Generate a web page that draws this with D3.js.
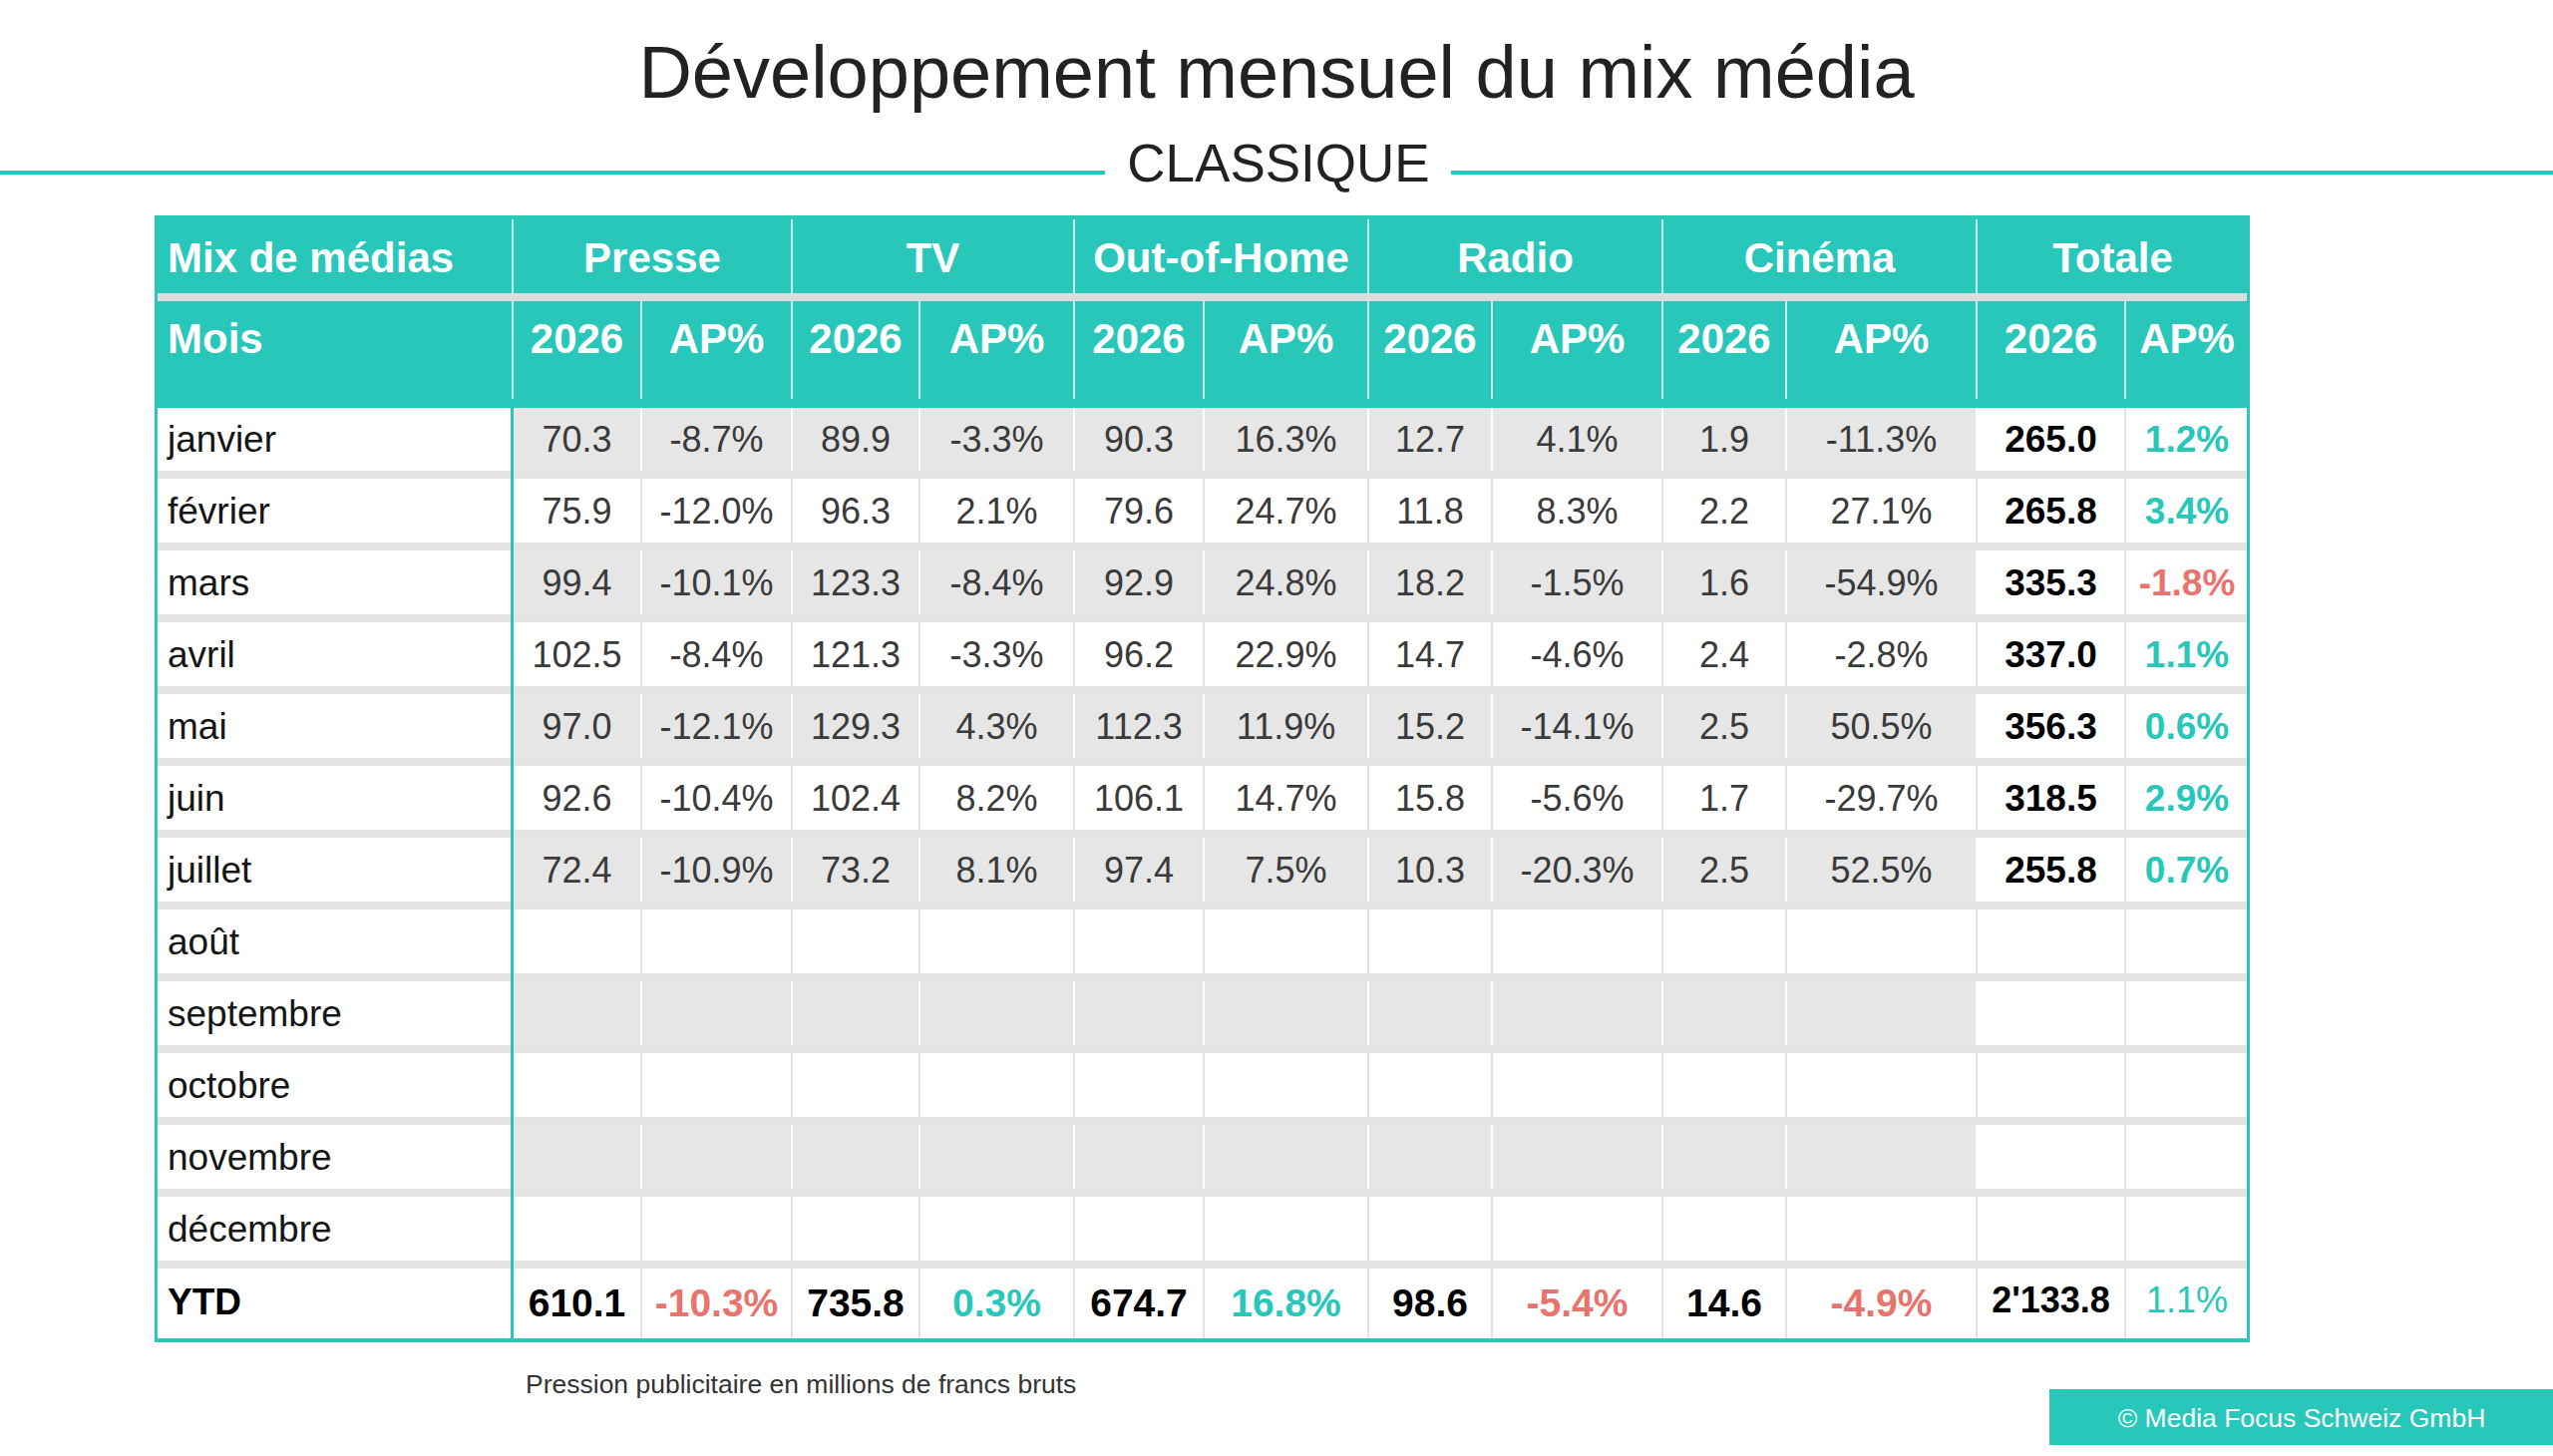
<!DOCTYPE html>
<html>
<head>
<meta charset="utf-8">
<script src="https://cdn.jsdelivr.net/npm/d3@7/dist/d3.min.js"></script>
<style>
  html, body { margin: 0; padding: 0; background: #ffffff; }
  svg { display: block; font-family: "Liberation Sans", Arial, Helvetica, sans-serif; }
</style>
</head>
<body>
<svg id="chart" width="2560" height="1460"></svg>
<script>
// ---------------- DATA ----------------
const titleText = "Développement mensuel du mix média";
const subtitleText = "CLASSIQUE";
const noteText = "Pression publicitaire en millions de francs bruts";
const copyrightText = "© Media Focus Schweiz GmbH";

const groups = ["Presse", "TV", "Out-of-Home", "Radio", "Cinéma", "Totale"];
const subHeaders = ["2026", "AP%"];
const cornerTop = "Mix de médias";
const cornerBottom = "Mois";

const months = ["janvier", "février", "mars", "avril", "mai", "juin", "juillet",
                "août", "septembre", "octobre", "novembre", "décembre"];
const ytdLabel = "YTD";

const presse2026 = [70.3, 75.9, 99.4, 102.5, 97.0, 92.6, 72.4];
const presseAP   = [-8.7, -12.0, -10.1, -8.4, -12.1, -10.4, -10.9];
const tv2026     = [89.9, 96.3, 123.3, 121.3, 129.3, 102.4, 73.2];
const tvAP       = [-3.3, 2.1, -8.4, -3.3, 4.3, 8.2, 8.1];
const ooh2026    = [90.3, 79.6, 92.9, 96.2, 112.3, 106.1, 97.4];
const oohAP      = [16.3, 24.7, 24.8, 22.9, 11.9, 14.7, 7.5];
const radio2026  = [12.7, 11.8, 18.2, 14.7, 15.2, 15.8, 10.3];
const radioAP    = [4.1, 8.3, -1.5, -4.6, -14.1, -5.6, -20.3];
const cinema2026 = [1.9, 2.2, 1.6, 2.4, 2.5, 1.7, 2.5];
const cinemaAP   = [-11.3, 27.1, -54.9, -2.8, 50.5, -29.7, 52.5];
const total2026  = [265.0, 265.8, 335.3, 337.0, 356.3, 318.5, 255.8];
const totalAP    = [1.2, 3.4, -1.8, 1.1, 0.6, 2.9, 0.7];

const ytd2026 = [610.1, 735.8, 674.7, 98.6, 14.6, 2133.8];
const ytdAP   = [-10.3, 0.3, 16.8, -5.4, -4.9, 1.1];

// ---------------- LAYOUT / STYLE ----------------
const TEAL = "#28c7ba";
const RED = "#e8746e";
const GRAY = "#e6e6e6";
const SEP = "#e4e4e4";
const TEXT = "#3a3a3a";

const colKeys = ["mois", "p26", "pAP", "t26", "tAP", "o26", "oAP", "r26", "rAP", "c26", "cAP", "tot26", "totAP"];
const colEdges = [155, 514, 643, 794, 922, 1077, 1207, 1372, 1496, 1667, 1791, 1982, 2131, 2255];

const x = d3.scaleOrdinal().domain(colKeys).range(colEdges.slice(0, -1));
const w = d3.scaleOrdinal().domain(colKeys).range(colEdges.slice(1).map((e, i) => e - colEdges[i]));
const cx = k => x(k) + w(k) / 2;

const rowLabels = months.concat([ytdLabel]);
const y = d3.scaleBand().domain(rowLabels).range([408, 1344]).paddingInner(0).paddingOuter(0);
const SEP_H = 8;

const fmtVal = d3.formatLocale({decimal: ".", thousands: "'", grouping: [3], currency: ["", ""]}).format(",.1f");
const fmtPct = v => d3.format(".1f")(v).replace("−", "-") + "%";
const pctColor = v => v < 0 ? RED : TEAL;

const svg = d3.select("#chart");

// ---------------- TITLE ----------------
svg.append("text").attr("x", 1280).attr("y", 98).attr("text-anchor", "middle")
  .attr("font-size", 74).attr("fill", "#222").text(titleText);

svg.append("line").attr("x1", 0).attr("x2", 1108).attr("y1", 173).attr("y2", 173)
  .attr("stroke", TEAL).attr("stroke-width", 4);
svg.append("line").attr("x1", 1455).attr("x2", 2560).attr("y1", 173).attr("y2", 173)
  .attr("stroke", TEAL).attr("stroke-width", 4);
svg.append("text").attr("x", 1282).attr("y", 182).attr("text-anchor", "middle")
  .attr("font-size", 53).attr("fill", "#222").text(subtitleText);

// ---------------- HEADER ----------------
const headTop = 216, headMid = 294, headMid2 = 302, headBottom = y.range()[0];
svg.append("rect").attr("x", colEdges[0]).attr("y", headTop)
  .attr("width", colEdges[colEdges.length - 1] - colEdges[0] + 1).attr("height", headBottom - headTop)
  .attr("fill", TEAL);
svg.append("rect").attr("x", colEdges[0] + 3).attr("y", headMid)
  .attr("width", colEdges[colEdges.length - 1] - colEdges[0] - 5).attr("height", headMid2 - headMid)
  .attr("fill", "#dedede");

const groupCols = groups.map((g, i) => ({name: g, a: colKeys[1 + 2 * i], b: colKeys[2 + 2 * i]}));

// header vertical lines
const hl = svg.append("g").attr("stroke", "rgba(255,255,255,0.75)").attr("stroke-width", 2);
groupCols.forEach(gc => {
  hl.append("line").attr("x1", x(gc.a)).attr("x2", x(gc.a)).attr("y1", headTop + 4).attr("y2", headMid);
});
colKeys.slice(1).forEach(k => {
  hl.append("line").attr("x1", x(k)).attr("x2", x(k)).attr("y1", headMid2).attr("y2", headBottom - 8);
});

const hText = svg.append("g").attr("fill", "#ffffff").attr("font-weight", "bold").attr("font-size", 42);
hText.append("text").attr("x", 168).attr("y", 273).text(cornerTop);
hText.append("text").attr("x", 168).attr("y", 354).text(cornerBottom);
groupCols.forEach(gc => {
  hText.append("text").attr("x", (x(gc.a) + x(gc.b) + w(gc.b)) / 2).attr("y", 273)
    .attr("text-anchor", "middle").text(gc.name);
  hText.append("text").attr("x", cx(gc.a)).attr("y", 354).attr("text-anchor", "middle").text(subHeaders[0]);
  hText.append("text").attr("x", cx(gc.b)).attr("y", 354).attr("text-anchor", "middle").text(subHeaders[1]);
});

// ---------------- BODY ----------------
const series2026 = [presse2026, tv2026, ooh2026, radio2026, cinema2026];
const seriesAP = [presseAP, tvAP, oohAP, radioAP, cinemaAP];
const mediaCols = colKeys.slice(1, 11);
const body = svg.append("g");

rowLabels.forEach((r, i) => {
  const top = y(r);
  const isYTD = r === ytdLabel;
  const contentH = isYTD ? y.bandwidth() : y.bandwidth() - SEP_H;
  const grayRow = !isYTD && i % 2 === 0;
  // backgrounds
  colKeys.forEach(k => {
    const isMedia = mediaCols.includes(k);
    body.append("rect").attr("x", x(k)).attr("y", top).attr("width", w(k)).attr("height", contentH)
      .attr("fill", (isMedia && grayRow) ? GRAY : "#ffffff");
  });
  // inner vertical lines
  colKeys.slice(2).forEach(k => {
    const onWhite = !grayRow || k === "totAP";
    body.append("line").attr("x1", x(k)).attr("x2", x(k)).attr("y1", top).attr("y2", top + contentH)
      .attr("stroke", onWhite ? "#e2e2e2" : "#ffffff").attr("stroke-width", 2);
  });
  // separator
  if (!isYTD) {
    body.append("rect").attr("x", colEdges[0]).attr("y", top + contentH)
      .attr("width", colEdges[colEdges.length - 1] - colEdges[0]).attr("height", SEP_H).attr("fill", SEP);
  }
});

// month labels
const lbl = svg.append("g").attr("font-size", 37).attr("fill", "#151515");
months.forEach(m => {
  lbl.append("text").attr("x", 168).attr("y", y(m) + 45).text(m);
});
lbl.append("text").attr("x", 168).attr("y", y(ytdLabel) + 46).attr("font-weight", "bold")
  .attr("fill", "#000").text(ytdLabel);

// monthly values
const vals = svg.append("g").attr("text-anchor", "middle");
months.forEach((m, i) => {
  if (i >= presse2026.length) return;
  const by = y(m) + 45;
  series2026.forEach((s, j) => {
    vals.append("text").attr("x", cx(colKeys[1 + 2 * j])).attr("y", by)
      .attr("font-size", 36).attr("fill", TEXT).text(fmtVal(s[i]));
    vals.append("text").attr("x", cx(colKeys[2 + 2 * j])).attr("y", by)
      .attr("font-size", 36).attr("fill", TEXT).text(fmtPct(seriesAP[j][i]));
  });
  vals.append("text").attr("x", cx("tot26")).attr("y", by).attr("font-size", 37)
    .attr("font-weight", "bold").attr("fill", "#000").text(fmtVal(total2026[i]));
  vals.append("text").attr("x", cx("totAP")).attr("y", by).attr("font-size", 37)
    .attr("font-weight", "bold").attr("fill", pctColor(totalAP[i])).text(fmtPct(totalAP[i]));
});

// YTD values
const ytdTop = y(ytdLabel);
ytd2026.forEach((v, j) => {
  const isTotal = j === ytd2026.length - 1;
  vals.append("text").attr("x", cx(colKeys[1 + 2 * j])).attr("y", ytdTop + (isTotal ? 44 : 48))
    .attr("font-size", isTotal ? 36 : 39).attr("font-weight", "bold")
    .attr("fill", "#000")
    .text(fmtVal(v));
  vals.append("text").attr("x", cx(colKeys[2 + 2 * j])).attr("y", ytdTop + (isTotal ? 44 : 48))
    .attr("font-size", isTotal ? 36 : 39).attr("font-weight", isTotal ? "normal" : "bold")
    .attr("fill", pctColor(ytdAP[j])).text(fmtPct(ytdAP[j]));
});

// ---------------- BORDERS ----------------
const bottom = y.range()[1];
const border = svg.append("g").attr("fill", TEAL);
border.append("rect").attr("x", colEdges[0]).attr("y", headTop).attr("width", 3).attr("height", bottom - headTop + 2);
border.append("rect").attr("x", x("p26") - 2).attr("y", headBottom).attr("width", 3).attr("height", bottom - headBottom + 2);
border.append("rect").attr("x", colEdges[colEdges.length - 1] - 2).attr("y", headTop).attr("width", 3).attr("height", bottom - headTop + 2);
border.append("rect").attr("x", colEdges[0]).attr("y", bottom - 2).attr("width", colEdges[colEdges.length - 1] - colEdges[0] + 1).attr("height", 4);
border.append("rect").attr("x", colEdges[0]).attr("y", headBottom - 2).attr("width", colEdges[colEdges.length - 1] - colEdges[0] + 1).attr("height", 3);

// ---------------- FOOTER ----------------
svg.append("text").attr("x", 527).attr("y", 1397).attr("font-size", 26.5).attr("fill", "#333").text(noteText);
svg.append("rect").attr("x", 2055).attr("y", 1393).attr("width", 505).attr("height", 56).attr("fill", TEAL);
svg.append("text").attr("x", 2308).attr("y", 1431).attr("text-anchor", "middle").attr("font-size", 26.5)
  .attr("fill", "#ffffff").text(copyrightText);
</script>
</body>
</html>
